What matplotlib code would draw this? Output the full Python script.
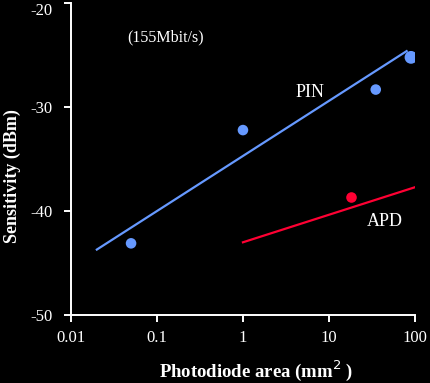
import matplotlib
matplotlib.use("Agg")
import matplotlib.pyplot as plt

# data
pin_area = [0.05, 1.0, 35, 90]
pin_sens = [-43.1, -32.2, -28.3, -25.2]
pin_fit_area = [0.02, 80]
pin_fit_sens = [-43.7, -24.6]
apd_area = [18]
apd_sens = [-38.6]
apd_fit_area = [1, 100]
apd_fit_sens = [-43.0, -37.7]
xticks = [0.01, 0.1, 1, 10, 100]
xtick_labels = ["0.01", "0.1", "1", "10", "100"]
yticks = [-50, -40, -30, -20]

plt.rcParams['font.family'] = ['Liberation Serif', 'DejaVu Serif']
plt.rcParams['axes.unicode_minus'] = False

fig = plt.figure(figsize=(4.3, 3.83), dpi=100, facecolor='black')
ax = fig.add_axes([0.165, 0.1775, 0.80, 0.8138])
ax.set_facecolor('black')

blue = '#6699ff'
red = '#ff0033'

ax.plot(pin_fit_area, pin_fit_sens, color=blue, lw=1.6)
ax.plot(apd_fit_area, apd_fit_sens, color=red, lw=1.6)
ax.scatter(pin_area, pin_sens, s=[58, 58, 58, 85], color=blue, zorder=3, lw=0)
ax.scatter(apd_area, apd_sens, s=58, color=red, zorder=3, lw=0)

ax.set_xscale('log')
ax.set_xlim(0.01, 100)
ax.set_ylim(-50, -20)
ax.set_xticks(xticks)
ax.set_xticklabels(xtick_labels)
ax.set_yticks(yticks)
ax.minorticks_off()

for s in ['top', 'right']:
    ax.spines[s].set_visible(False)
for s in ['left', 'bottom']:
    ax.spines[s].set_color('white')
    ax.spines[s].set_linewidth(1.4)
ax.tick_params(colors='white', labelsize=12, length=5, width=1.4, direction='out')
ax.tick_params(axis='y', pad=8)
ax.tick_params(axis='x', pad=6)
for lab in ax.get_yticklabels():
    lab.set_va('top') if lab.get_text() == "-20" else None

ax.text(0.127, -23.3, "(155Mbit/s)", color='white', fontsize=11.5, ha='center', va='center')
ax.text(6.0, -28.6, "PIN", color='white', fontsize=13, ha='center', va='center')
ax.text(45, -41.0, "APD", color='white', fontsize=13, ha='center', va='center')

ax.set_xlabel("Photodiode area (mm$^2$ )", color='white', fontsize=13.5, fontweight='bold', va='center')
ax.set_ylabel("Sensitivity (dBm)", color='white', fontsize=13, fontweight='bold', va='center')
ax.xaxis.set_label_coords(0.538, -0.178)
ax.yaxis.set_label_coords(-0.1715, 0.446)

fig.savefig("out.png", facecolor='black')
